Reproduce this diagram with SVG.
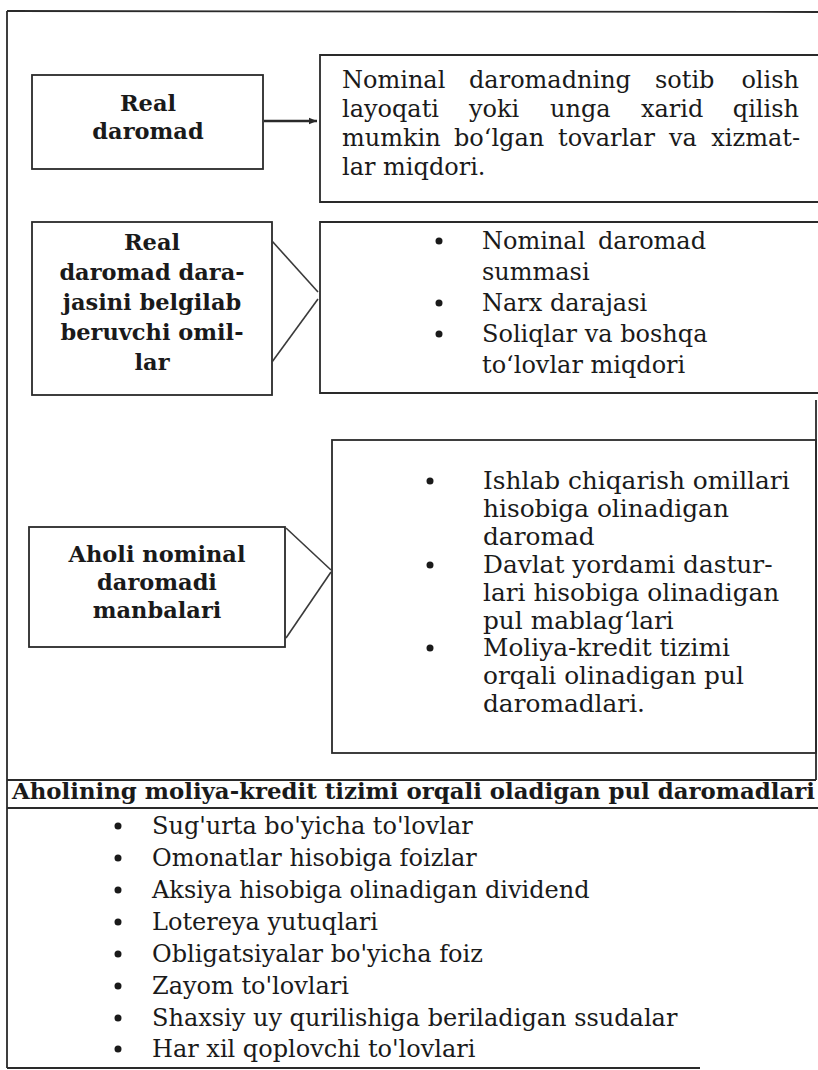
<svg xmlns="http://www.w3.org/2000/svg" width="818" height="1070" viewBox="0 0 818 1070">
<style>
.bx{fill:none;stroke:#2a2a2a;stroke-width:1.8}
.fr{fill:none;stroke:#2a2a2a;stroke-width:1.8}
.cn{stroke:#3a3a3a;stroke-width:1.6;fill:none}
.ar{stroke:#2a2a2a;stroke-width:2.4;fill:none}
.h{font-family:"DejaVu Serif",serif;font-weight:bold;font-size:22.5px;fill:#1a1a1a;text-anchor:middle}
.t{font-family:"DejaVu Serif",serif;font-size:24px;fill:#1a1a1a}
.t6{font-size:24.8px}
.e{text-anchor:end}
.b{fill:#1a1a1a}
</style>
<defs>
<marker id="ah" viewBox="0 0 10 10" refX="10" refY="5" markerWidth="8" markerHeight="8" orient="auto" markerUnits="userSpaceOnUse"><path d="M0,1 L10,5 L0,9 z" fill="#2a2a2a"/></marker>
</defs>
<rect width="818" height="1070" fill="#ffffff"/>
<g id="frame">
<line class="fr" x1="7" y1="11" x2="7" y2="1068"/>
<line class="fr" x1="7" y1="11" x2="818" y2="12"/>
<line class="fr" x1="816" y1="400" x2="816" y2="780"/>
<line class="fr" x1="7" y1="1068" x2="700" y2="1068"/>
</g>
<g id="n1">
<rect class="bx" x="32" y="75" width="231" height="94"/>
<text class="h" x="148" y="111">Real</text>
<text class="h" x="148" y="139">daromad</text>
</g>
<g id="n2">
<path class="bx" d="M818,55 H320 V202 H818"/>
<text class="t" y="88"><tspan x="342">Nominal</tspan><tspan x="469">daromadning</tspan><tspan x="655">sotib</tspan></text>
<text class="t e" x="799" y="88">olish</text>
<text class="t" y="117"><tspan x="342">layoqati</tspan><tspan x="469">yoki</tspan><tspan x="550">unga</tspan><tspan x="641">xarid</tspan></text>
<text class="t e" x="799" y="117">qilish</text>
<text class="t" y="146"><tspan x="342">mumkin</tspan><tspan x="454">bo‘lgan</tspan><tspan x="558">tovarlar</tspan><tspan x="669">va</tspan></text>
<text class="t e" x="800" y="146">xizmat-</text>
<text class="t" x="342" y="175">lar miqdori.</text>
</g>
<g id="n3">
<rect class="bx" x="32" y="222" width="240" height="173"/>
<text class="h" x="152" y="250">Real</text>
<text class="h" x="152" y="280">daromad dara-</text>
<text class="h" x="152" y="310">jasini belgilab</text>
<text class="h" x="152" y="340">beruvchi omil-</text>
<text class="h" x="152" y="370">lar</text>
</g>
<g id="n4">
<path class="bx" d="M818,222 H320 V393 H818"/>
<circle class="b" cx="439" cy="241" r="3.5"/>
<circle class="b" cx="439" cy="303" r="3.5"/>
<circle class="b" cx="439" cy="334" r="3.5"/>
<text class="t" x="482" y="249">Nominal <tspan x="598">daromad</tspan></text>
<text class="t" x="482" y="280">summasi</text>
<text class="t" x="482" y="311">Narx darajasi</text>
<text class="t" x="482" y="342">Soliqlar va boshqa</text>
<text class="t" x="482" y="373">to‘lovlar miqdori</text>
</g>
<g id="n5">
<rect class="bx" x="29" y="527" width="256" height="120"/>
<text class="h" x="157" y="562">Aholi nominal</text>
<text class="h" x="157" y="590">daromadi</text>
<text class="h" x="157" y="618">manbalari</text>
</g>
<g id="n6">
<rect class="bx" x="332" y="440" width="484" height="313"/>
<circle class="b" cx="430" cy="481" r="3.5"/>
<circle class="b" cx="430" cy="565" r="3.5"/>
<circle class="b" cx="430" cy="648" r="3.5"/>
<text class="t t6" x="483" y="489">Ishlab chiqarish omillari</text>
<text class="t t6" x="483" y="517">hisobiga olinadigan</text>
<text class="t t6" x="483" y="545">daromad</text>
<text class="t t6" x="483" y="573">Davlat yordami dastur-</text>
<text class="t t6" x="483" y="601">lari hisobiga olinadigan</text>
<text class="t t6" x="483" y="629">pul mablag‘lari</text>
<text class="t t6" x="483" y="656">Moliya-kredit tizimi</text>
<text class="t t6" x="483" y="684">orqali olinadigan pul</text>
<text class="t t6" x="483" y="712">daromadlari.</text>
</g>
<g id="n7">
<line class="fr" x1="7" y1="780" x2="816" y2="780"/>
<line class="fr" x1="7" y1="808" x2="818" y2="808"/>
<text class="h" x="12" y="799" style="text-anchor:start" textLength="803" lengthAdjust="spacingAndGlyphs">Aholining moliya-kredit tizimi orqali oladigan pul daromadlari</text>
<g class="b">
<circle cx="118" cy="826" r="3.5"/>
<circle cx="118" cy="858" r="3.5"/>
<circle cx="118" cy="890" r="3.5"/>
<circle cx="118" cy="922" r="3.5"/>
<circle cx="118" cy="954" r="3.5"/>
<circle cx="118" cy="986" r="3.5"/>
<circle cx="118" cy="1018" r="3.5"/>
<circle cx="118" cy="1049" r="3.5"/>
</g>
<text class="t" x="152" y="834">Sug'urta bo'yicha to'lovlar</text>
<text class="t" x="152" y="866">Omonatlar hisobiga foizlar</text>
<text class="t" x="152" y="898">Aksiya hisobiga olinadigan dividend</text>
<text class="t" x="152" y="930">Lotereya yutuqlari</text>
<text class="t" x="152" y="962">Obligatsiyalar bo'yicha foiz</text>
<text class="t" x="152" y="994">Zayom to'lovlari</text>
<text class="t" x="152" y="1026">Shaxsiy uy qurilishiga beriladigan ssudalar</text>
<text class="t" x="152" y="1057">Har xil qoplovchi to'lovlari</text>
</g>
<g id="connectors">
<line class="ar" x1="264" y1="121" x2="317" y2="121" marker-end="url(#ah)"/>
<line class="cn" x1="272" y1="241" x2="318" y2="292"/>
<line class="cn" x1="272" y1="362" x2="318" y2="299"/>
<line class="cn" x1="286" y1="528" x2="331" y2="570"/>
<line class="cn" x1="286" y1="638" x2="331" y2="572"/>
</g>
</svg>
